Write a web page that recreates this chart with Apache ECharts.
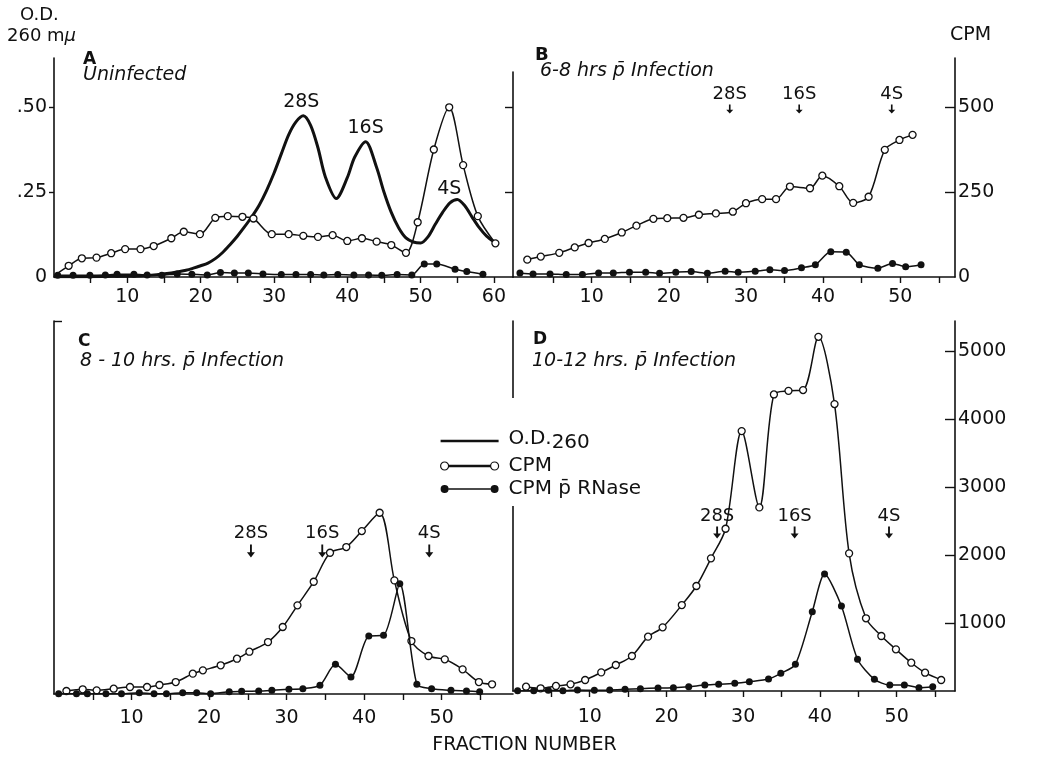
<!DOCTYPE html>
<html>
<head>
<meta charset="utf-8">
<script src="https://cdn.jsdelivr.net/npm/echarts@6/dist/echarts.min.js"></script>
<style>
  html, body { margin: 0; padding: 0; background: #fff; }
  #chart { width: 1049px; height: 765px; }
</style>
</head>
<body>
<div id="chart"></div>
<script>
// Sucrose gradient profiles: fraction number vs O.D.260 and CPM

// Panel A (uninfected): O.D.260 trace and CPM values
const odA = [[0,0.001],[4,0.001],[8,0.002],[12,0.004],[14,0.007],[16,0.012],[18,0.020],[19,0.026],[20,0.033],[21,0.041],[22,0.054],[23,0.072],[24,0.095],[25,0.120],[26,0.148],[27,0.178],[28,0.212],[29,0.255],[30,0.305],[31,0.362],[32,0.418],[33,0.456],[34,0.474],[35,0.446],[36,0.380],[37,0.295],[38.5,0.231],[40,0.292],[41,0.352],[42.5,0.398],[44,0.322],[45,0.250],[46,0.190],[47,0.145],[48,0.115],[49,0.103],[50,0.100],[51,0.118],[52,0.155],[53,0.190],[54,0.218],[55,0.228],[56,0.210],[57,0.177],[58,0.145],[59,0.120],[60,0.104]];
const peakNamesA = ['28S','16S','4S'];
const peakFracA = [34, 42.5, 55];
const cpmA = [[2,33],[3.8,55],[5.8,57],[7.8,70],[9.7,82],[11.8,82],[13.6,91],[16,114],[17.7,133],[19.9,126],[22,174],[23.7,179],[25.7,177],[27.2,172],[29.7,126],[32,126],[34,121],[36,118],[38,123],[40,106],[42,114],[44,104],[46,94],[48,71],[49.6,161],[51.8,375],[53.9,499],[55.8,329],[57.8,179],[60.2,99]];
const rnaseA = [[0.5,5],[2.6,5],[4.9,5],[7,6],[8.6,8],[10.9,8],[12.7,6],[14.7,5],[16.8,9],[18.8,8],[20.9,6],[22.7,13],[24.6,12],[26.5,12],[28.5,9],[31,7],[33,7],[35,7],[36.8,6],[38.7,7],[40.9,6],[42.9,6],[44.7,5],[46.8,7],[48.8,6],[50.5,38],[52.2,38],[54.7,23],[56.3,16],[58.5,8]];

// Panel B (6-8 hrs)
const cpmB = [[1.65,51],[3.4,60],[5.8,71],[7.8,87],[9.6,100],[11.7,112],[13.9,131],[15.8,151],[18,171],[19.8,173],[21.9,174],[23.9,183],[26.1,187],[28.3,192],[30,217],[32.1,229],[33.9,229],[35.7,266],[38.3,261],[39.9,298],[42.1,267],[43.9,218],[45.9,236],[48,374],[49.9,403],[51.6,418]];
const rnaseB = [[0.7,12],[2.4,9],[4.6,9],[6.7,7],[8.8,7],[10.9,12],[12.8,12],[14.9,14],[17,14],[18.8,11],[20.9,14],[22.9,16],[25,11],[27.3,17],[29,14],[31.2,17],[33.1,21],[35,19],[37.2,27],[39,36],[41,74],[43,73],[44.7,36],[47.1,26],[49,40],[50.7,30],[52.7,36]];

// Panel C (8-10 hrs)
const cpmC = [[1.6,44],[3.7,69],[5.5,54],[7.7,78],[9.8,103],[12,103],[13.6,132],[15.7,176],[17.9,299],[19.2,348],[21.5,422],[23.6,519],[25.2,622],[27.6,764],[29.5,985],[31.4,1304],[33.5,1651],[35.6,2077],[37.7,2161],[39.7,2396],[42,2665],[43.9,1671],[46.1,779],[48.3,559],[50.4,510],[52.7,363],[54.8,176],[56.5,143]];
const rnaseC = [[0.6,5],[2.9,5],[4.3,5],[6.7,5],[8.7,5],[11,20],[12.9,5],[14.5,5],[16.6,20],[18.4,20],[20.2,5],[22.6,34],[24.2,39],[26.4,44],[28.1,54],[30.3,69],[32.1,78],[34.3,127],[36.3,436],[38.3,250],[40.6,853],[42.5,863],[44.6,1621],[46.8,143],[48.7,78],[51.2,54],[53.2,44],[54.9,34]];

// Panel D (10-12 hrs)
const cpmD = [[1.7,63],[3.6,40],[5.6,74],[7.5,98],[9.4,162],[11.5,274],[13.4,382],[15.5,515],[17.6,799],[19.5,936],[22,1264],[23.9,1544],[25.8,1951],[27.7,2386],[29.8,3822],[32.1,2700],[34,4361],[35.9,4414],[37.8,4425],[39.8,5208],[41.9,4219],[43.8,2024],[46,1069],[48,809],[49.9,613],[51.9,416],[53.7,269],[55.8,162]];
const rnaseD = [[0.6,5],[2.7,5],[4.6,10],[6.5,5],[8.4,15],[10.6,10],[12.6,15],[14.6,25],[16.6,34],[18.9,44],[20.9,49],[22.9,63],[25,88],[26.8,98],[28.9,113],[30.8,137],[33.3,176],[34.9,260],[36.8,392],[39,1166],[40.6,1720],[42.8,1250],[44.9,466],[47.1,172],[49.1,88],[51,88],[52.9,49],[54.7,63]];

// Sedimentation markers (28S, 16S, 4S) for B, C, D: fraction and arrow height in CPM
const markerNames = ['28S','16S','4S'];
const markerFracB = [27.9, 36.9, 48.9];
const markerLevelB = 494;
const markerFracC = [25.4, 34.6, 48.4];
const markerLevelC = 2103;
const markerFracD = [26.6, 36.7, 49.0];
const markerLevelD = 2331;

// Tick labels
const xTicksTop = [5,10,15,20,25,30,35,40,45,50,55,60];
const xLabelsA = [10,20,30,40,50,60];
const xTicksB = [5,10,15,20,25,30,35,40,45,50,55];
const xLabelsBCD = [10,20,30,40,50];
const odTicks = [0.25, 0.5];
const odLabels = [0, 0.25, 0.5];
const cpmTicksB = [250, 500];
const cpmLabelsB = [0, 250, 500];
const cpmTicksD = [1000, 2000, 3000, 4000, 5000];

const FONT = 'DejaVu Sans';
const INK = '#111';
const NAME_OD = 'O.D.260';
const NAME_CPM = 'CPM';
const NAME_RN = 'CPM p\u0304 RNase';

function xAxis(grid, min, max, ticks, labels, margin) {
  return {
    type: 'value', gridIndex: grid, min: min, max: max,
    axisLine: { show: true, onZero: false, lineStyle: { color: INK, width: 1.6 } },
    axisTick: { show: true, inside: false, length: 6, customValues: ticks, lineStyle: { color: INK, width: 1.4 } },
    axisLabel: { show: true, customValues: labels, margin: margin, color: INK, fontFamily: FONT, fontSize: 19, formatter: v => String(v) },
    splitLine: { show: false }
  };
}
function yAxis(grid, pos, max, opts) {
  const o = opts || {};
  return {
    type: 'value', gridIndex: grid, position: pos, min: 0, max: max, show: o.show !== false,
    axisLine: { show: o.line !== false, onZero: false, lineStyle: { color: INK, width: 1.6 } },
    axisTick: o.ticks ? { show: true, inside: !!o.inside, length: o.tickLen || 6, customValues: o.ticks, lineStyle: { color: INK, width: 1.4 } } : { show: false },
    axisLabel: o.labels ? { show: true, customValues: o.labels, margin: o.margin || 6, color: INK, fontFamily: FONT, fontSize: 19, formatter: o.fmt || (v => String(v)) } : { show: false },
    splitLine: { show: false }
  };
}

const openSym = { color: '#fff', borderColor: INK, borderWidth: 1.3, opacity: 1 };
function cpmSeries(x, y, data) {
  return { name: NAME_CPM, type: 'line', xAxisIndex: x, yAxisIndex: y, data: data, smooth: 0.3,
    symbol: 'circle', symbolSize: 7, itemStyle: openSym, lineStyle: { color: INK, width: 1.5 }, z: 3, animation: false };
}
function rnaseSeries(x, y, data) {
  return { name: NAME_RN, type: 'line', xAxisIndex: x, yAxisIndex: y, data: data, smooth: 0.25,
    symbol: 'circle', symbolSize: 7, itemStyle: { color: INK, opacity: 1 }, lineStyle: { color: INK, width: 1.5 }, z: 4, animation: false };
}
const arrowPath = 'path://M4.3,0H5.7V11H4.3Z M2,10H8L5,17Z';
function markerSeries(x, y, fracs, level, size, dist) {
  return { name: 'markers', type: 'scatter', xAxisIndex: x, yAxisIndex: y,
    data: fracs.map((f, i) => ({ value: [f, level], name: markerNames[i] })),
    symbol: arrowPath, symbolSize: size, symbolKeepAspect: false, itemStyle: { color: INK, opacity: 1 },
    label: { show: true, position: 'top', distance: dist, formatter: p => p.name, color: INK, fontFamily: FONT, fontSize: 18 },
    silent: true, animation: false };
}

const peakOffsets = [[-2, 0], [0, 0], [-8, 4]];
const peaksA = peakFracA.map((f, i) => {
  const pt = odA.find(d => d[0] === f);
  return { value: [pt[0], pt[1]], name: peakNamesA[i], label: { offset: peakOffsets[i] } };
});

const odLabelFmt = v => (v === 0 ? '0' : ('.' + (v * 100).toFixed(0).padStart(2, '0')));

const titleStyle = (size, weight, style) => ({ fontFamily: FONT, fontSize: size, fontWeight: weight, fontStyle: style, color: INK });

const option = {
  backgroundColor: '#fff',
  animation: false,
  title: [
    { text: 'O.D.', left: 20, top: 6, padding: 0, textStyle: titleStyle(18, 'normal', 'normal') },
    { text: '260 m{i|\u03bc}', left: 7, top: 27, padding: 0, textStyle: Object.assign(titleStyle(18, 'normal', 'normal'), { rich: { i: { fontFamily: FONT, fontSize: 18, fontStyle: 'italic', color: INK } } }) },
    { text: 'A', left: 83, top: 51, padding: 0, textStyle: titleStyle(17, 'bold', 'normal') },
    { text: 'Uninfected', left: 83, top: 66, padding: 0, textStyle: titleStyle(19, 'normal', 'italic') },
    { text: 'B', left: 535, top: 46, padding: 0, textStyle: titleStyle(18, 'bold', 'normal') },
    { text: '6-8 hrs p\u0304 Infection', left: 540, top: 62, padding: 0, textStyle: titleStyle(19, 'normal', 'italic') },
    { text: 'C', left: 78, top: 333, padding: 0, textStyle: titleStyle(17, 'bold', 'normal') },
    { text: '8 - 10 hrs. p\u0304 Infection', left: 80, top: 352, padding: 0, textStyle: titleStyle(19, 'normal', 'italic') },
    { text: 'D', left: 533, top: 331, padding: 0, textStyle: titleStyle(17, 'bold', 'normal') },
    { text: '10-12 hrs. p\u0304 Infection', left: 532, top: 352, padding: 0, textStyle: titleStyle(19, 'normal', 'italic') },
    { text: 'CPM', left: 950, top: 26, padding: 0, textStyle: titleStyle(19, 'normal', 'normal') },
    { text: 'FRACTION NUMBER', left: 'center', top: 736, padding: 0, textStyle: titleStyle(19, 'normal', 'normal') }
  ],
  legend: {
    orient: 'vertical', left: 436, top: 398, padding: [31, 4, 7, 4],
    backgroundColor: '#fff', itemWidth: 58, itemHeight: 9, itemGap: 3, selectedMode: false,
    textStyle: { fontFamily: FONT, fontSize: 20, lineHeight: 20, color: INK, padding: [0, 0, 0, 5],
      rich: { od: { fontFamily: FONT, fontSize: 20, lineHeight: 20, verticalAlign: 'top', color: INK },
              sub: { fontFamily: FONT, fontSize: 20, lineHeight: 24, verticalAlign: 'bottom', color: INK } } },
    formatter: n => (n === NAME_OD ? '{od|O.D.}{sub|260}' : n),
    data: [
      { name: NAME_OD, icon: 'path://M0,3.8H60V6.2H0Z', itemStyle: { color: INK, borderWidth: 0 } },
      { name: NAME_CPM, icon: 'path://M1,5A4,4 0 1,0 9,5A4,4 0 1,0 1,5Z M9,4.4H51V5.6H9Z M51,5A4,4 0 1,0 59,5A4,4 0 1,0 51,5Z', itemStyle: { color: '#fff', borderColor: INK, borderWidth: 1.2 } },
      { name: NAME_RN, icon: 'path://M1,5A4,4 0 1,0 9,5A4,4 0 1,0 1,5Z M9,4.3H51V5.7H9Z M51,5A4,4 0 1,0 59,5A4,4 0 1,0 51,5Z', itemStyle: { color: INK, borderWidth: 0 } }
    ]
  },
  grid: [
    { left: 54, top: 58, width: 459, height: 219 },
    { left: 513, top: 58, width: 442, height: 219 },
    { left: 54, top: 321, width: 459, height: 373 },
    { left: 513, top: 321, width: 442, height: 370 },
    // shorter frame carrying the O.D. scale on panel B's left edge
    { left: 513, top: 72, width: 442, height: 205 }
  ],
  xAxis: [
    xAxis(0, 0, 62.6, xTicksTop, xLabelsA, 11),
    xAxis(1, -0.2, 57.1, xTicksB, xLabelsBCD, 11),
    xAxis(2, 0, 59.2, xTicksB, xLabelsBCD, 15),
    xAxis(3, 0, 57.6, xTicksB, xLabelsBCD, 17),
    { type: 'value', gridIndex: 4, show: false, min: 0, max: 1 }
  ],
  yAxis: [
    yAxis(0, 'left', 0.644, { ticks: odTicks, tickLen: 5, labels: odLabels, fmt: odLabelFmt, margin: 7 }),
    yAxis(0, 'right', 644, { show: false }),
    yAxis(4, 'left', 0.603, { ticks: odTicks, tickLen: 8 }),
    yAxis(1, 'right', 644, { ticks: cpmTicksB, inside: true, tickLen: 10, labels: cpmLabelsB, margin: 3 }),
    yAxis(2, 'left', 5485, { ticks: [5485], inside: true, tickLen: 8 }),
    yAxis(3, 'left', 5441, {}),
    yAxis(3, 'right', 5441, { ticks: cpmTicksD, inside: true, tickLen: 10, labels: cpmTicksD, margin: 3 })
  ],
  series: [
    { name: NAME_OD, type: 'line', xAxisIndex: 0, yAxisIndex: 0, data: odA, smooth: 0.3,
      showSymbol: false, symbol: 'none', lineStyle: { color: INK, width: 3 }, z: 2, animation: false },
    { name: 'peak labels', type: 'scatter', xAxisIndex: 0, yAxisIndex: 0, data: peaksA,
      symbolSize: 1, itemStyle: { color: 'rgba(0,0,0,0)', opacity: 1 }, silent: true,
      label: { show: true, position: 'top', distance: 4, formatter: p => p.name, color: INK, fontFamily: FONT, fontSize: 19 } },
    cpmSeries(0, 1, [{ value: [0, 4], symbol: 'none' }].concat(cpmA)),
    rnaseSeries(0, 1, rnaseA),
    cpmSeries(1, 3, cpmB),
    rnaseSeries(1, 3, rnaseB),
    cpmSeries(2, 4, cpmC),
    rnaseSeries(2, 4, rnaseC),
    cpmSeries(3, 6, cpmD),
    rnaseSeries(3, 6, rnaseD),
    markerSeries(1, 3, markerFracB, markerLevelB, [7, 9], 1),
    markerSeries(2, 4, markerFracC, markerLevelC, [8, 13], 2),
    markerSeries(3, 6, markerFracD, markerLevelD, [8, 12], 1)
  ]
};

const chart = echarts.init(document.getElementById('chart'), null, { renderer: 'canvas' });
chart.setOption(option);
</script>
</body>
</html>
